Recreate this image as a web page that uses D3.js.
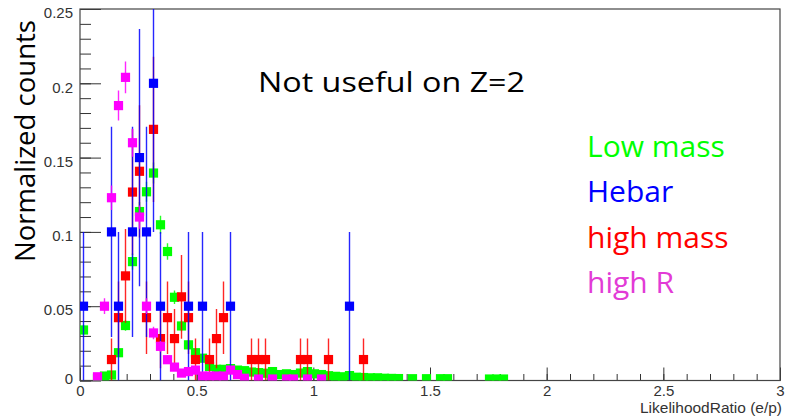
<!DOCTYPE html>
<html><head><meta charset="utf-8">
<script src="https://cdn.jsdelivr.net/npm/d3@7"></script>
<style>
  body { margin: 0; background: #fff; }
  svg { display: block; }
  .tick text { font-family: "Liberation Sans", Arial, sans-serif; font-size: 15px; fill: #333; }
</style>
</head><body>
<svg id="chart" width="794" height="419"></svg>
<script>
// Normalized LikelihoodRatio (e/p) distributions, one histogram per sample (bin width 0.03)
const lowMassX = [0.015, 0.075, 0.105, 0.135, 0.165, 0.195, 0.225, 0.255, 0.285, 0.315, 0.345, 0.375, 0.405, 0.435, 0.465, 0.495, 0.525, 0.555, 0.585, 0.615, 0.645, 0.675, 0.705, 0.735, 0.765, 0.795, 0.825, 0.855, 0.885, 0.915, 0.945, 0.975, 1.005, 1.035, 1.065, 1.095, 1.125, 1.155, 1.185, 1.215, 1.245, 1.275, 1.305, 1.335, 1.365, 1.425, 1.485, 1.545, 1.575, 1.755, 1.785, 1.815];
const lowMassY = [0.034, 0.0015, 0.003, 0.0037, 0.0187, 0.037, 0.080, 0.1137, 0.127, 0.1396, 0.1048, 0.0868, 0.056, 0.0367, 0.024, 0.0187, 0.015, 0.0095, 0.0075, 0.0075, 0.008, 0.007, 0.0066, 0.0057, 0.0053, 0.0049, 0.006, 0.004, 0.0045, 0.004, 0.005, 0.006, 0.0045, 0.004, 0.0032, 0.0028, 0.0025, 0.0033, 0.0022, 0.002, 0.0018, 0.0018, 0.0015, 0.0014, 0.0013, 0.0012, 0.0012, 0.0012, 0.0012, 0.001, 0.001, 0.001];
const lowMassErr = [0.0035, 0.0007, 0.001, 0.0012, 0.0026, 0.0036, 0.0054, 0.0064, 0.0067, 0.0071, 0.0061, 0.0056, 0.0045, 0.0036, 0.0029, 0.0026, 0.0023, 0.0018, 0.0016, 0.0016, 0.0017, 0.0016, 0.0015, 0.0014, 0.0014, 0.0013, 0.0015, 0.0012, 0.0013, 0.0012, 0.0013, 0.0015, 0.0013, 0.0012, 0.0011, 0.001, 0.0009, 0.0011, 0.0009, 0.0008, 0.0008, 0.0008, 0.0007, 0.0007, 0.0007, 0.0007, 0.0007, 0.0007, 0.0007, 0.0006, 0.0006, 0.0006];

const hebarX = [0.015, 0.135, 0.165, 0.225, 0.255, 0.285, 0.315, 0.345, 0.465, 0.525, 0.645, 1.155];
const hebarY = [0.05, 0.1, 0.05, 0.1, 0.15, 0.1, 0.2, 0.05, 0.05, 0.05, 0.05, 0.05];
const hebarErr = [0.05, 0.0707, 0.05, 0.0707, 0.0866, 0.0707, 0.1, 0.05, 0.05, 0.05, 0.05, 0.05];

const highMassX = [0.135, 0.165, 0.195, 0.225, 0.255, 0.285, 0.315, 0.345, 0.375, 0.405, 0.435, 0.465, 0.495, 0.555, 0.585, 0.615, 0.735, 0.765, 0.795, 0.945, 0.975, 1.065, 1.215];
const highMassY = [0.0141, 0.0423, 0.0704, 0.1268, 0.1408, 0.0423, 0.169, 0.0282, 0.0423, 0.0282, 0.0563, 0.0423, 0.0141, 0.0141, 0.0282, 0.0423, 0.0141, 0.0141, 0.0141, 0.0141, 0.0141, 0.0141, 0.0141];
const highMassErr = [0.0141, 0.0244, 0.0315, 0.0423, 0.0445, 0.0244, 0.0488, 0.0199, 0.0244, 0.0199, 0.0282, 0.0244, 0.0141, 0.0141, 0.0199, 0.0244, 0.0141, 0.0141, 0.0141, 0.0141, 0.0141, 0.0141, 0.0141];

const highRX = [0.075, 0.105, 0.135, 0.165, 0.195, 0.225, 0.255, 0.285, 0.315, 0.345, 0.375, 0.405, 0.435, 0.465, 0.495, 0.525, 0.555, 0.585, 0.615, 0.645, 0.675, 0.705, 0.765, 0.825, 0.885, 0.915, 0.975, 1.035];
const highRY = [0.0025, 0.05, 0.123, 0.185, 0.204, 0.16, 0.11, 0.05, 0.032, 0.023, 0.014, 0.009, 0.005, 0.006, 0.007, 0.003, 0.003, 0.003, 0.003, 0.007, 0.004, 0.0015, 0.001, 0.001, 0.001, 0.001, 0.001, 0.001];
const highRErr = [0.0012, 0.0053, 0.0083, 0.0101, 0.0107, 0.0094, 0.0078, 0.0053, 0.0042, 0.0036, 0.0028, 0.0022, 0.0017, 0.0018, 0.002, 0.0013, 0.0013, 0.0013, 0.0013, 0.002, 0.0015, 0.0009, 0.0008, 0.0008, 0.0008, 0.0008, 0.0008, 0.0008];

const xMajorTicks = [0, 0.5, 1, 1.5, 2, 2.5, 3];
const xTickLabels = ["0", "0.5", "1", "1.5", "2", "2.5", "3"];
const yMajorTicks = [0, 0.05, 0.1, 0.15, 0.2, 0.25];
const yTickLabels = ["0", "0.05", "0.1", "0.15", "0.2", "0.25"];

const legendLabels = ["Low mass", "Hebar", "high mass", "high R"];
const legendColors = ["#00ff00", "#0000ff", "#ff0000", "#e23bd6"];

// draw order of the histograms (last on top)
const series = [
  { xs: lowMassX, ys: lowMassY, es: lowMassErr, color: "#00ff00" },
  { xs: highMassX, ys: highMassY, es: highMassErr, color: "#ff0000" },
  { xs: hebarX, ys: hebarY, es: hebarErr, color: "#0000ff" },
  { xs: highRX, ys: highRY, es: highRErr, color: "#ff00ff" }
];

const svg = d3.select("#chart");
const padL = 80, padR = 780, padT = 9, padB = 380.5;
const x = d3.scaleLinear().domain([0, 3]).range([padL, padR]);
const y = d3.scaleLinear().domain([0, 0.25]).range([padB, padT]);

svg.append("defs").append("clipPath").attr("id", "plotArea")
  .append("rect").attr("x", padL).attr("y", padT).attr("width", padR - padL).attr("height", padB - padT);

// minor ticks
svg.append("g").attr("transform", `translate(0,${padB})`)
  .call(d3.axisBottom(x).tickValues(d3.range(0, 31).map(i => i / 10)).tickSizeInner(-6.5).tickSizeOuter(0).tickFormat(""))
  .call(g => g.select(".domain").remove())
  .call(g => g.selectAll("line").attr("stroke", "#333"));
svg.append("g").attr("transform", `translate(${padL},0)`)
  .call(d3.axisLeft(y).tickValues(d3.range(0, 26).map(i => i / 100)).tickSizeInner(-11).tickSizeOuter(0).tickFormat(""))
  .call(g => g.select(".domain").remove())
  .call(g => g.selectAll("line").attr("stroke", "#333"));

// major ticks with labels
svg.append("g").attr("transform", `translate(0,${padB})`)
  .call(d3.axisBottom(x).tickValues(xMajorTicks).tickSizeInner(-13).tickSizeOuter(0).tickPadding(4.5)
    .tickFormat((d, i) => xTickLabels[i]))
  .call(g => g.select(".domain").remove())
  .call(g => g.selectAll("line").attr("stroke", "#333"));
svg.append("g").attr("transform", `translate(${padL},0)`)
  .call(d3.axisLeft(y).tickValues(yMajorTicks).tickSizeInner(-21).tickSizeOuter(0).tickPadding(7)
    .tickFormat((d, i) => yTickLabels[i]))
  .call(g => g.select(".domain").remove())
  .call(g => g.selectAll("line").attr("stroke", "#333"))
  .call(g => g.selectAll("text").attr("dy", d => d === 0 ? "0.2em" : "0.58em"));

// frame
svg.append("rect").attr("x", padL).attr("y", padT).attr("width", padR - padL).attr("height", padB - padT)
  .attr("fill", "none").attr("stroke", "#444").attr("stroke-width", 1.2);

// histograms: error bars and square markers
const plot = svg.append("g").attr("clip-path", "url(#plotArea)");
series.forEach(s => {
  const pts = s.xs.map((v, i) => ({ x: v, y: s.ys[i], e: s.es[i] }));
  const g = plot.append("g");
  g.selectAll("line").data(pts).join("line")
    .attr("x1", d => x(d.x)).attr("x2", d => x(d.x))
    .attr("y1", d => y(Math.max(0, d.y - d.e))).attr("y2", d => y(d.y + d.e))
    .attr("stroke", s.color).attr("stroke-width", 1.4).attr("stroke-opacity", 0.85);
  g.selectAll("rect").data(pts).join("rect")
    .attr("x", d => x(d.x) - 4.6).attr("y", d => y(d.y) - 4.6)
    .attr("width", 9.2).attr("height", 9.2).attr("fill", s.color);
});

// axis title
svg.append("text").attr("x", 782).attr("y", 413).attr("text-anchor", "end")
  .style("font-family", "'Liberation Sans', Arial, sans-serif").style("font-size", "14.5px").style("fill", "#333")
  .attr("textLength", 142).attr("lengthAdjust", "spacingAndGlyphs")
  .text("LikelihoodRatio (e/p)");

svg.append("text").attr("transform", "translate(35,141) rotate(-90)").attr("text-anchor", "middle")
  .style("font-family", "'Open Sans', sans-serif").style("font-size", "28px").style("fill", "#000")
  .attr("textLength", 242).attr("lengthAdjust", "spacingAndGlyphs")
  .text("Normalized counts");

svg.append("text").attr("x", 258).attr("y", 92).style("font-family", "'Open Sans', sans-serif")
  .style("font-size", "28px").style("fill", "#000")
  .attr("textLength", 267).attr("lengthAdjust", "spacingAndGlyphs")
  .text("Not useful on Z=2");

// legend
svg.append("g").selectAll("text").data(legendLabels).join("text")
  .attr("x", 587).attr("y", (d, i) => 157 + i * 45.3)
  .style("font-family", "'Open Sans', sans-serif").style("font-size", "30px")
  .style("fill", (d, i) => legendColors[i])
  .text(d => d);
</script>
</body></html>
